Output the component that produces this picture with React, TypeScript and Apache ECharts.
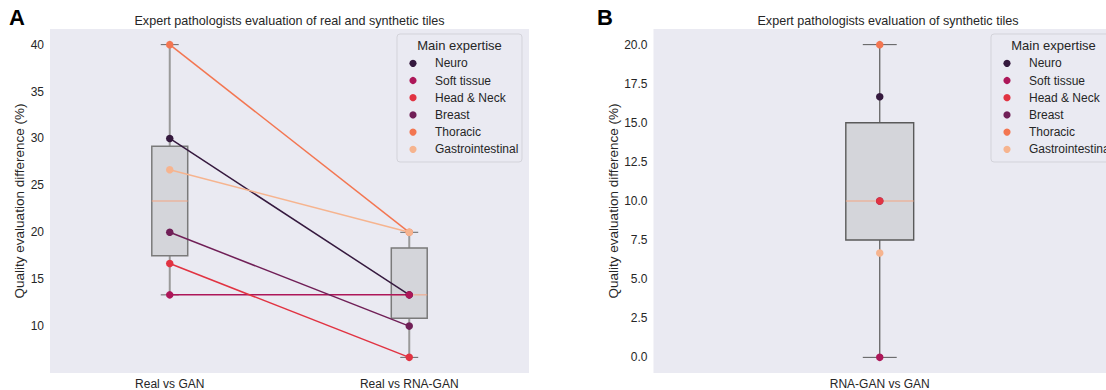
import React, { useEffect, useRef } from "react";
import * as echarts from "echarts";

// ---------- data ----------
const experts = ["Neuro", "Soft tissue", "Head & Neck", "Breast", "Thoracic", "Gastrointestinal"];
const expertColors = ["#35193e", "#ad1759", "#e13342", "#701f57", "#f37651", "#f6b48f"];

const categoriesA = ["Real vs GAN", "Real vs RNA-GAN"];
const realVsGan = [30, 13.33, 16.67, 20, 40, 26.67];
const realVsRnaGan = [13.33, 13.33, 6.67, 10, 20, 20];

const categoriesB = ["RNA-GAN vs GAN"];
const rnaGanVsGan = [16.67, 0, 10, 10, 20, 6.67];

const yTicksA = [10, 15, 20, 25, 30, 35, 40];
const yTicksB = [0, 2.5, 5, 7.5, 10, 12.5, 15, 17.5, 20];

const drawOrderB = [0, 1, 3, 2, 4, 5];

const titleA = "Expert pathologists evaluation of real and synthetic tiles";
const titleB = "Expert pathologists evaluation of synthetic tiles";
const yName = "Quality evaluation difference (%)";
const legendTitle = "Main expertise";

// ---------- helpers ----------
function percentile(sorted: number[], p: number) {
  const pos = (sorted.length - 1) * p;
  const lo = Math.floor(pos);
  const hi = Math.ceil(pos);
  return sorted[lo] + (sorted[hi] - sorted[lo]) * (pos - lo);
}
function boxStats(idx: number, vals: number[]) {
  const s = [...vals].sort((a, b) => a - b);
  const q1 = percentile(s, 0.25);
  const med = percentile(s, 0.5);
  const q3 = percentile(s, 0.75);
  const iqr = q3 - q1;
  const lo = Math.min(...s.filter((v) => v >= q1 - 1.5 * iqr));
  const hi = Math.max(...s.filter((v) => v <= q3 + 1.5 * iqr));
  return [idx, lo, q1, med, q3, hi];
}
function padExtent(vals: number[]) {
  const lo = Math.min(...vals);
  const hi = Math.max(...vals);
  const pad = (hi - lo) * 0.05;
  return [lo - pad, hi + pad];
}

const TEXT = "#262626";
const FONT = "'Liberation Sans', Arial, Helvetica, sans-serif";
const BG = "#eaeaf2";

const GRID_A = { left: 50, top: 29, width: 479, height: 345 };
const GRID_B = { left: 653.5, top: 29, width: 469, height: 345 };

function makeBoxRenderer(style: {
  box: string;
  whisker: string;
  whiskerWidth: number;
  cap: string;
  boxLine: number;
}) {
  return (params: any, api: any) => {
    const x = api.value(0);
    const lo = api.value(1);
    const q1 = api.value(2);
    const med = api.value(3);
    const q3 = api.value(4);
    const hi = api.value(5);
    const band = api.size([1, 0])[0];
    const hw = (band * 0.15) / 2;
    const cw = hw / 2;
    const pLo = api.coord([x, lo]);
    const pQ1 = api.coord([x, q1]);
    const pMed = api.coord([x, med]);
    const pQ3 = api.coord([x, q3]);
    const pHi = api.coord([x, hi]);
    const cx = pMed[0];
    return {
      type: "group",
      children: [
        {
          type: "line",
          shape: { x1: cx, y1: pHi[1], x2: cx, y2: pQ3[1] },
          style: { stroke: style.whisker, lineWidth: style.whiskerWidth },
        },
        {
          type: "line",
          shape: { x1: cx, y1: pQ1[1], x2: cx, y2: pLo[1] },
          style: { stroke: style.whisker, lineWidth: style.whiskerWidth },
        },
        {
          type: "line",
          shape: { x1: cx - cw, y1: pHi[1], x2: cx + cw, y2: pHi[1] },
          style: { stroke: style.cap, lineWidth: 1 },
        },
        {
          type: "line",
          shape: { x1: cx - cw, y1: pLo[1], x2: cx + cw, y2: pLo[1] },
          style: { stroke: style.cap, lineWidth: 1 },
        },
        {
          type: "rect",
          shape: { x: cx - hw, y: pQ3[1], width: hw * 2, height: pQ1[1] - pQ3[1] },
          style: { fill: "#d4d5da", stroke: style.box, lineWidth: style.boxLine },
        },
        {
          type: "line",
          shape: { x1: cx - hw, y1: pMed[1], x2: cx + hw, y2: pMed[1] },
          style: { stroke: "#f4a582", lineWidth: 1 },
        },
      ],
    };
  };
}

function legendGraphic(left: number, top: number) {
  const children: any[] = [
    {
      type: "rect",
      shape: { x: 0, y: 0, width: 125, height: 128, r: 3 },
      style: { fill: BG, stroke: "#d3d3da", lineWidth: 1 },
    },
    {
      type: "text",
      x: 62.5,
      y: 11,
      style: {
        text: legendTitle,
        fontSize: 13,
        fontFamily: FONT,
        fill: TEXT,
        textAlign: "center",
        textVerticalAlign: "middle",
      },
    },
  ];
  experts.forEach((name, i) => {
    const y = 29.3 + i * 17.2;
    children.push({
      type: "circle",
      shape: { cx: 16, cy: y, r: 3.6 },
      style: { fill: expertColors[i] },
    });
    children.push({
      type: "text",
      x: 38,
      y: y,
      style: {
        text: name,
        fontSize: 12,
        fontFamily: FONT,
        fill: TEXT,
        textAlign: "left",
        textVerticalAlign: "middle",
      },
    });
  });
  return { type: "group", x: left, y: top, children };
}

export default function App() {
  const ref = useRef<HTMLDivElement>(null);

  useEffect(() => {
    document.body.style.margin = "0";
    if (!ref.current) return;
    const chart = echarts.init(ref.current, undefined, { renderer: "svg" });

    const extA = padExtent([...realVsGan, ...realVsRnaGan]);
    const extB = padExtent(rnaGanVsGan);

    const seriesA: any[] = experts.map((name, i) => ({
      type: "line",
      name,
      xAxisIndex: 0,
      yAxisIndex: 0,
      data: [realVsGan[i], realVsRnaGan[i]],
      symbol: "circle",
      symbolSize: 7.5,
      showSymbol: true,
      z: 3,
      lineStyle: { color: expertColors[i], width: 1.5 },
      itemStyle: { color: expertColors[i] },
      emphasis: { disabled: true },
    }));

    const seriesB: any[] = drawOrderB.map((i) => ({
      type: "scatter",
      name: experts[i],
      xAxisIndex: 1,
      yAxisIndex: 1,
      data: [[0, rnaGanVsGan[i]]],
      symbol: "circle",
      symbolSize: 7.5,
      z: 3,
      itemStyle: { color: expertColors[i], opacity: 1 },
      emphasis: { disabled: true },
    }));

    const axisLabelStyle = { color: TEXT, fontSize: 12, fontFamily: FONT };

    chart.setOption({
      animation: false,
      backgroundColor: "#ffffff",
      textStyle: { fontFamily: FONT },
      grid: [
        { ...GRID_A, backgroundColor: BG, show: true, borderWidth: 0 },
        { ...GRID_B, backgroundColor: BG, show: true, borderWidth: 0 },
      ],
      xAxis: [
        {
          type: "category",
          gridIndex: 0,
          data: categoriesA,
          boundaryGap: true,
          axisLine: { show: false },
          axisTick: { show: false },
          splitLine: { show: false },
          axisLabel: { ...axisLabelStyle, margin: 5 },
        },
        {
          type: "category",
          gridIndex: 1,
          data: categoriesB,
          boundaryGap: true,
          axisLine: { show: false },
          axisTick: { show: false },
          splitLine: { show: false },
          axisLabel: { ...axisLabelStyle, margin: 5 },
        },
      ],
      yAxis: [
        {
          type: "value",
          gridIndex: 0,
          min: extA[0],
          max: extA[1],
          axisLine: { show: false },
          axisTick: { show: false },
          splitLine: { show: false },
          axisLabel: {
            ...axisLabelStyle,
            margin: 6,
            customValues: yTicksA,
            formatter: (v: number) => String(v),
          },
          name: yName,
          nameLocation: "middle",
          nameRotate: 90,
          nameGap: 21,
          nameTextStyle: { color: TEXT, fontSize: 13.5, fontFamily: FONT },
        },
        {
          type: "value",
          gridIndex: 1,
          min: extB[0],
          max: extB[1],
          axisLine: { show: false },
          axisTick: { show: false },
          splitLine: { show: false },
          axisLabel: {
            ...axisLabelStyle,
            margin: 6,
            customValues: yTicksB,
            formatter: (v: number) => v.toFixed(1),
          },
          name: yName,
          nameLocation: "middle",
          nameRotate: 90,
          nameGap: 29,
          nameTextStyle: { color: TEXT, fontSize: 13.5, fontFamily: FONT },
        },
      ],
      series: [
        {
          type: "custom",
          xAxisIndex: 0,
          yAxisIndex: 0,
          z: 1,
          silent: true,
          encode: { x: 0, y: [1, 2, 3, 4, 5] },
          data: [boxStats(0, realVsGan), boxStats(1, realVsRnaGan)],
          renderItem: makeBoxRenderer({
            box: "#7a7a7a",
            whisker: "#9a9a9a",
            whiskerWidth: 2,
            cap: "#666666",
            boxLine: 1.5,
          }),
        },
        {
          type: "custom",
          xAxisIndex: 1,
          yAxisIndex: 1,
          z: 1,
          silent: true,
          encode: { x: 0, y: [1, 2, 3, 4, 5] },
          data: [boxStats(0, rnaGanVsGan)],
          renderItem: makeBoxRenderer({
            box: "#5a5a5a",
            whisker: "#5a5a5a",
            whiskerWidth: 1.2,
            cap: "#5a5a5a",
            boxLine: 1.4,
          }),
        },
        ...seriesA,
        ...seriesB,
      ],
      graphic: [
        {
          type: "text",
          x: 9,
          y: 6,
          style: { text: "A", fontSize: 22, fontWeight: "bold", fontFamily: FONT, fill: "#000", textVerticalAlign: "top" },
        },
        {
          type: "text",
          x: 597,
          y: 6,
          style: { text: "B", fontSize: 22, fontWeight: "bold", fontFamily: FONT, fill: "#000", textVerticalAlign: "top" },
        },
        {
          type: "text",
          x: GRID_A.left + GRID_A.width / 2,
          y: 21,
          style: { text: titleA, fontSize: 12.6, fontFamily: FONT, fill: TEXT, textAlign: "center", textVerticalAlign: "middle" },
        },
        {
          type: "text",
          x: GRID_B.left + GRID_B.width / 2,
          y: 21,
          style: { text: titleB, fontSize: 12.6, fontFamily: FONT, fill: TEXT, textAlign: "center", textVerticalAlign: "middle" },
        },
        legendGraphic(397, 34),
        legendGraphic(991, 34),
      ],
    });

    return () => chart.dispose();
  }, []);

  return <div ref={ref} style={{ width: 1106, height: 390 }} />;
}
